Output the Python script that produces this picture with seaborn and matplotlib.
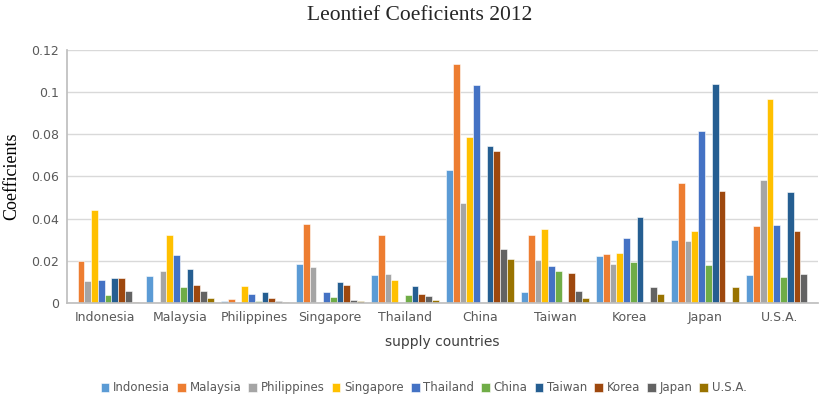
import matplotlib
matplotlib.use("Agg")
import matplotlib.pyplot as plt
import seaborn as sns
import pandas as pd
import numpy as np

supply = ["Indonesia", "Malaysia", "Philippines", "Singapore", "Thailand",
          "China", "Taiwan", "Korea", "Japan", "U.S.A."]
series = ["Indonesia", "Malaysia", "Philippines", "Singapore", "Thailand",
          "China", "Taiwan", "Korea", "Japan", "U.S.A."]

# rows: supply country, columns: series (same order)
v_indonesia   = [0.0,    0.0201, 0.0106, 0.0443, 0.0111, 0.0038, 0.0119, 0.0120, 0.0057, 0.0006]
v_malaysia    = [0.0128, 0.0,    0.0152, 0.0322, 0.0229, 0.0076, 0.0163, 0.0085, 0.0057, 0.0021]
v_philippines = [0.0008, 0.0017, 0.0,    0.0082, 0.0044, 0.0008, 0.0052, 0.0021, 0.0010, 0.0005]
v_singapore   = [0.0186, 0.0373, 0.0171, 0.0,    0.0054, 0.0028, 0.0098, 0.0084, 0.0014, 0.0011]
v_thailand    = [0.0133, 0.0324, 0.0137, 0.0111, 0.0,    0.0036, 0.0081, 0.0044, 0.0035, 0.0016]
v_china       = [0.0630, 0.1133, 0.0474, 0.0788, 0.1033, 0.0,    0.0743, 0.0719, 0.0254, 0.0209]
v_taiwan      = [0.0054, 0.0324, 0.0204, 0.0351, 0.0177, 0.0152, 0.0,    0.0142, 0.0057, 0.0024]
v_korea       = [0.0223, 0.0231, 0.0183, 0.0239, 0.0310, 0.0193, 0.0409, 0.0,    0.0076, 0.0043]
v_japan       = [0.0300, 0.0570, 0.0292, 0.0343, 0.0817, 0.0180, 0.1040, 0.0532, 0.0,    0.0076]
v_usa         = [0.0134, 0.0367, 0.0581, 0.0967, 0.0370, 0.0125, 0.0528, 0.0343, 0.0137, 0.0]

rows = [v_indonesia, v_malaysia, v_philippines, v_singapore, v_thailand,
        v_china, v_taiwan, v_korea, v_japan, v_usa]

colors = ["#5B9BD5", "#ED7D31", "#A5A5A5", "#FFC000", "#4472C4",
          "#70AD47", "#255E91", "#9E480E", "#636363", "#997300"]

records = []
for sc, vals in zip(supply, rows):
    for s, v in zip(series, vals):
        records.append({"supply": sc, "series": s, "value": v})
df = pd.DataFrame(records)

sns.set_theme(style="white")
fig = plt.figure(figsize=(8.3, 3.97), dpi=100)
ax = fig.add_axes([0.081, 0.237, 0.904, 0.637])

sns.barplot(data=df, x="supply", y="value", hue="series", order=supply,
            hue_order=series, palette=colors, width=0.9, ax=ax,
            edgecolor="white", linewidth=0.4, saturation=1, errorbar=None)

ax.set_ylim(0, 0.12)
ax.set_yticks([0, 0.02, 0.04, 0.06, 0.08, 0.1, 0.12])
ax.set_yticklabels(["0", "0.02", "0.04", "0.06", "0.08", "0.1", "0.12"])
ax.yaxis.grid(True, color="#D9D9D9", linewidth=1)
ax.set_axisbelow(True)
for sp in ["top", "right"]:
    ax.spines[sp].set_visible(False)
ax.spines["left"].set_color("#BFBFBF")
ax.spines["bottom"].set_color("#BFBFBF")
ax.tick_params(axis="both", colors="#595959", labelsize=9, length=0, pad=6)
ax.set_xlim(-0.5, 9.5)

ax.set_xlabel("supply countries", fontsize=10, color="#404040", labelpad=8)
ax.set_ylabel("Coefficients", fontsize=13, family="Liberation Serif", color="black", labelpad=8)
fig.text(0.505, 0.960, "Leontief Coeficients 2012", ha="center", va="center",
         fontsize=15.5, family="Liberation Serif")

h, l = ax.get_legend_handles_labels()
ax.legend(h, l, loc="center", bbox_to_anchor=(0.475, -0.336), ncol=10, frameon=False,
          fontsize=8.5, handlelength=0.75, handleheight=0.75, handletextpad=0.3,
          columnspacing=0.6, labelcolor="#595959")

fig.savefig("out.png", dpi=100)
